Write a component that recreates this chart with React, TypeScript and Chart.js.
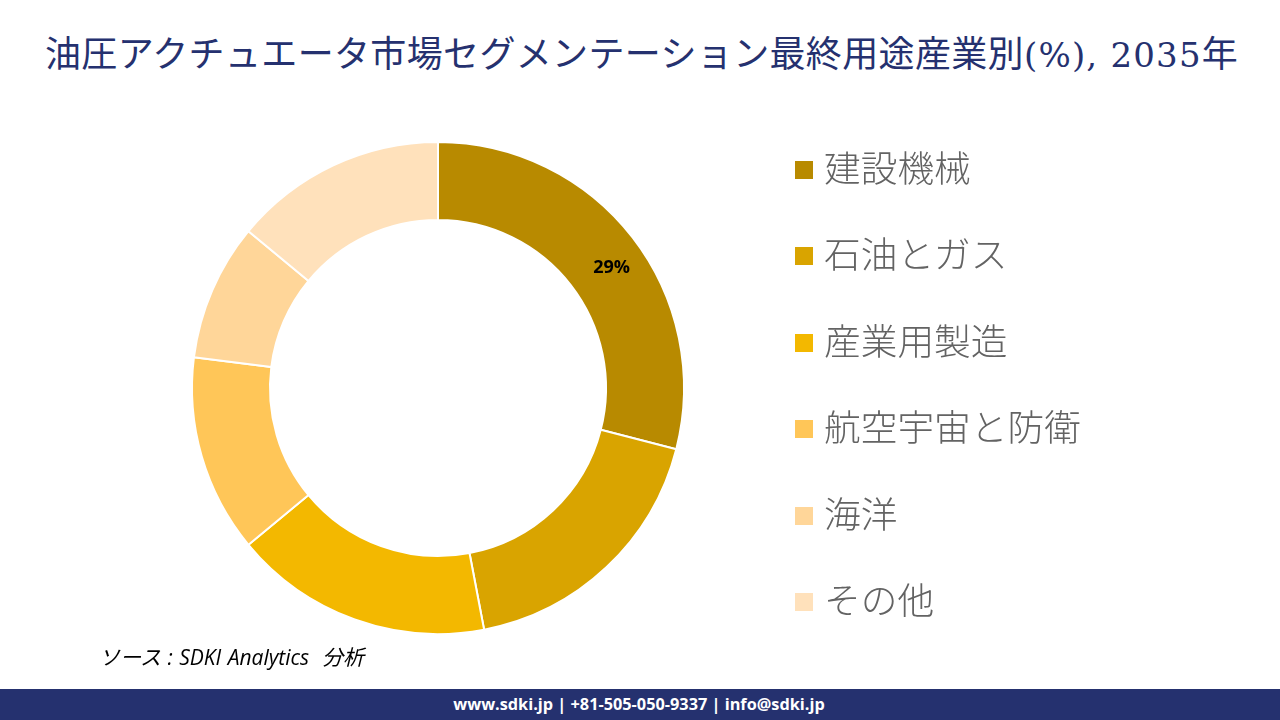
import { useEffect, useRef } from 'react'
import { Chart, registerables } from 'chart.js'

Chart.register(...registerables)

const titleMain = '油圧アクチュエータ市場セグメンテーション最終用途産業別'
const titleTail = '(%), 2035'
const titleEnd = '年'
const sourceText = 'ソース : SDKI Analytics  分析'
const footerText = 'www.sdki.jp | +81-505-050-9337 | info@sdki.jp'

const categories = ['建設機械', '石油とガス', '産業用製造', '航空宇宙と防衛', '海洋', 'その他']
const shares = [29, 18, 17, 13, 9, 14]
const sliceColors = ['#B88A00', '#D9A400', '#F3B800', '#FFC658', '#FFD699', '#FFE1BB']
const labelledSlice = 0

// only the first slice carries a label in the original
const sliceLabel = {
  id: 'sliceLabel',
  afterDatasetsDraw(chart: Chart) {
    const arc = chart.getDatasetMeta(0).data[labelledSlice]
    const p = arc.getCenterPoint()
    const ctx = chart.ctx
    ctx.save()
    ctx.font = 'bold 18px "Open Sans", sans-serif'
    ctx.fillStyle = '#000'
    ctx.textAlign = 'center'
    ctx.textBaseline = 'middle'
    ctx.fillText(shares[labelledSlice] + '%', p.x + 10, p.y + 7)
    ctx.restore()
  },
}

export default function App() {
  const canvasRef = useRef<HTMLCanvasElement | null>(null)

  useEffect(() => {
    const chart = new Chart(canvasRef.current!, {
      type: 'doughnut',
      data: {
        labels: categories,
        datasets: [
          {
            data: shares,
            backgroundColor: sliceColors,
            borderColor: '#fff',
            borderWidth: 2,
          },
        ],
      },
      options: {
        animation: false,
        responsive: false,
        cutout: '68.3%',
        layout: { padding: { left: 191, right: 595, top: 141, bottom: 85 } },
        plugins: {
          tooltip: { enabled: false },
          legend: { display: false },
        },
      },
      plugins: [sliceLabel],
    })
    return () => chart.destroy()
  }, [])

  return (
    <div style={{ position: 'absolute', left: 0, top: 0, width: 1280, height: 720, background: '#fff', overflow: 'hidden' }}>
      <div
        style={{
          position: 'absolute',
          left: 45,
          top: 26,
          whiteSpace: 'nowrap',
          color: '#25316F',
          fontSize: 36,
          letterSpacing: 0.35,
          lineHeight: '50px',
          fontFamily: '"Noto Sans CJK JP", serif',
        }}
      >
        {titleMain}
        <span style={{ fontFamily: '"DejaVu Serif", serif', fontSize: 34, letterSpacing: 1.2 }}>{titleTail}</span>
        {titleEnd}
      </div>
      <canvas ref={canvasRef} width={1280} height={720} style={{ position: 'absolute', left: 0, top: 0 }} />
      {categories.map((name, i) => (
        <div
          key={name}
          style={{
            position: 'absolute',
            left: 795,
            top: 140 + i * 86.4,
            height: 60,
            display: 'flex',
            alignItems: 'center',
            whiteSpace: 'nowrap',
          }}
        >
          <span style={{ width: 18, height: 18, marginRight: 11, background: sliceColors[i] }} />
          <span
            style={{
              position: 'relative',
              top: -4,
              fontSize: 36.7,
              lineHeight: '60px',
              fontWeight: 300,
              color: '#636363',
              fontFamily: '"Noto Sans CJK JP", sans-serif',
            }}
          >
            {name}
          </span>
        </div>
      ))}
      <div
        style={{
          position: 'absolute',
          left: 99,
          top: 643,
          whiteSpace: 'pre',
          fontStyle: 'italic',
          fontSize: 21,
          wordSpacing: 1,
          lineHeight: '28px',
          color: '#000',
          fontFamily: '"Open Sans", "Noto Sans CJK JP", sans-serif',
        }}
      >
        {sourceText}
      </div>
      <div
        style={{
          position: 'absolute',
          left: 0,
          top: 689,
          width: 1278,
          paddingRight: 2,
          height: 31,
          lineHeight: '30px',
          background: '#25316F',
          color: '#fff',
          textAlign: 'center',
          fontSize: 16.3,
          fontWeight: 700,
          fontFamily: '"Open Sans", sans-serif',
        }}
      >
        {footerText}
      </div>
    </div>
  )
}
